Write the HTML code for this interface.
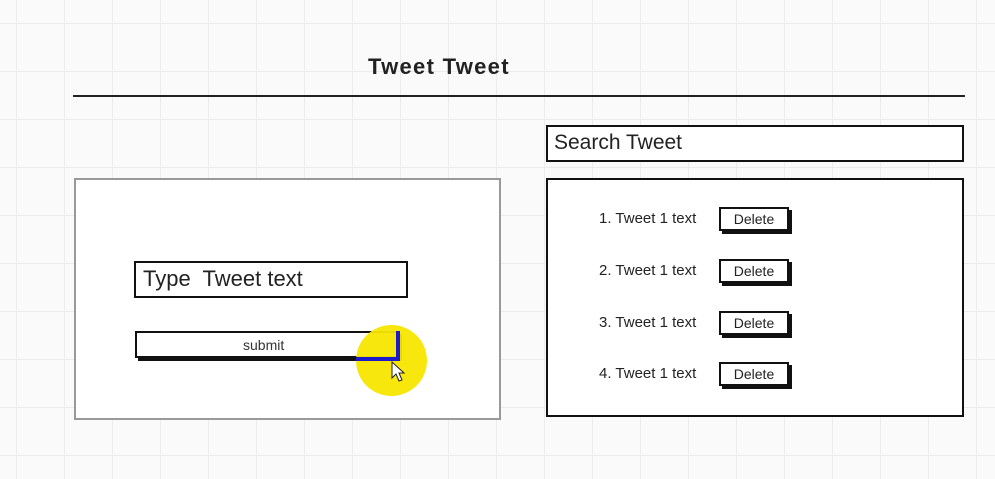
<!DOCTYPE html>
<html><head><style>
body{margin:0;width:995px;height:479px;overflow:hidden;background:#fafafa;position:relative;font-family:"Liberation Sans",sans-serif;
background-image:linear-gradient(to right,#ececec 1px,transparent 1px),linear-gradient(to bottom,#ececec 1px,transparent 1px);background-size:48px 48px;background-position:16px 23px;}
.a{position:absolute;box-sizing:border-box}
.t{position:absolute;white-space:nowrap;color:#222}
.del{position:absolute;box-sizing:border-box;width:70px;height:24px;border:2px solid #111;background:#fff;box-shadow:3px 3px 0 #111;font-size:14px;text-align:center;line-height:20px;color:#222}
</style></head><body>
<div class="t" style="left:368px;top:54px;font-size:22px;font-weight:bold;letter-spacing:1.3px">Tweet Tweet</div>
<div class="a" style="left:73px;top:95px;width:892px;height:2px;background:#222"></div>

<div class="a" style="left:74px;top:178px;width:427px;height:242px;border:2px solid #999;background:#fff"></div>
<div class="a" style="left:134px;top:261px;width:274px;height:37px;border:2px solid #111;background:#fff"></div>
<div class="t" style="left:143px;top:266px;font-size:22px">Type&nbsp; Tweet text</div>
<div class="a" style="left:135px;top:331px;width:264px;height:27px;border:2px solid #111;background:#fff;box-shadow:3px 3px 0 #111"></div>
<div class="t" style="left:243px;top:337px;font-size:14px;color:#333">submit</div>
<div class="a" style="left:356px;top:325px;width:71px;height:71px;border-radius:50%;background:#f7e600;opacity:0.95"></div>
<div class="a" style="left:396px;top:331px;width:4px;height:30px;background:#1a1acc"></div>
<div class="a" style="left:356px;top:357px;width:44px;height:4px;background:#1a1acc"></div>
<svg class="a" style="left:390px;top:360px" width="16" height="24"><path d="M2 2 L2 18 L6 14 L9 21 L12 20 L9 13 L14 13 Z" fill="#fff" stroke="#222" stroke-width="1"/></svg>

<div class="a" style="left:546px;top:125px;width:418px;height:37px;border:2px solid #111;background:#fff"></div>
<div class="t" style="left:554px;top:131px;font-size:21px">Search Tweet</div>
<div class="a" style="left:546px;top:178px;width:418px;height:239px;border:2px solid #111;background:#fff"></div>

<div class="t" style="left:599px;top:210px;font-size:15px">1. Tweet 1 text</div>
<div class="del" style="left:719px;top:207px">Delete</div>
<div class="t" style="left:599px;top:262px;font-size:15px">2. Tweet 1 text</div>
<div class="del" style="left:719px;top:259px">Delete</div>
<div class="t" style="left:599px;top:314px;font-size:15px">3. Tweet 1 text</div>
<div class="del" style="left:719px;top:311px">Delete</div>
<div class="t" style="left:599px;top:365px;font-size:15px">4. Tweet 1 text</div>
<div class="del" style="left:719px;top:362px">Delete</div>
</body></html>
